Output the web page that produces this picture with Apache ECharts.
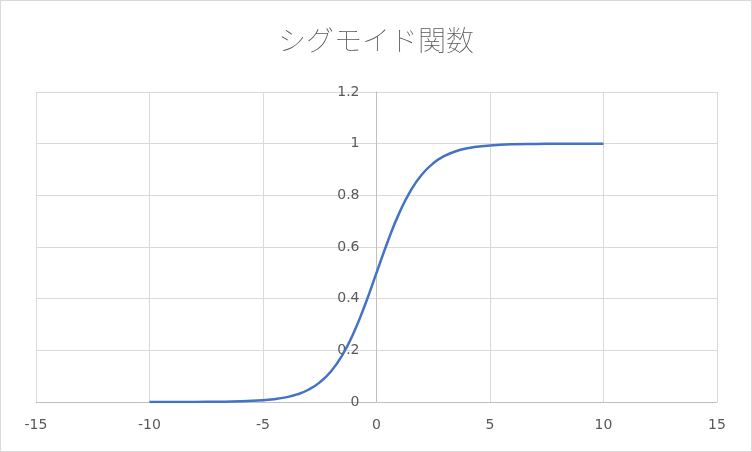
<!DOCTYPE html>
<html>
<head>
<meta charset="utf-8">
<script src="https://cdn.jsdelivr.net/npm/echarts@6/dist/echarts.min.js"></script>
<style>
html,body{margin:0;padding:0;background:#fff;}
#c{width:752px;height:452px;box-sizing:border-box;border:1px solid #d9d9d9;}
</style>
</head>
<body>
<div id="c"></div>
<script>
var titleText = 'シグモイド関数';
var xValues = [-10,-9,-8,-7,-6,-5,-4.5,-4,-3.5,-3,-2.5,-2,-1.5,-1,-0.5,0,0.5,1,1.5,2,2.5,3,3.5,4,4.5,5,6,7,8,9,10];
var yValues = [0.0000454,0.000123,0.000335,0.000911,0.00247,0.00669,0.0110,0.0180,0.0293,0.0474,0.0759,0.1192,0.1824,0.2689,0.3775,0.5,0.6225,0.7311,0.8176,0.8808,0.9241,0.9526,0.9707,0.9820,0.9890,0.9933,0.9975,0.9991,0.9997,0.9999,1.0000];
var points = xValues.map(function(x,i){return [x, yValues[i]];});

var gridLeft = 35;
var chart = echarts.init(document.getElementById('c'));
var labelFont = {fontFamily:'DejaVu Sans',fontSize:14,color:'#595959'};
chart.setOption({
  animation:false,
  title:{text:titleText,left:'center',top:20,textStyle:{fontFamily:'Noto Sans CJK JP',fontWeight:'lighter',fontSize:28,color:'#595959'}},
  grid:{left:gridLeft,right:34,top:91,bottom:49,containLabel:false,outerBoundsMode:'none'},
  xAxis:{type:'value',min:-15,max:15,interval:5,
    axisLine:{onZero:false,lineStyle:{color:'#bfbfbf',width:1}},
    axisTick:{show:false},
    axisLabel:Object.assign({margin:16},labelFont),
    splitLine:{show:true,lineStyle:{color:'#d9d9d9',width:1}}},
  yAxis:{type:'value',min:0,max:1.2,interval:0.2,position:'left',offset:0,
    axisLine:{show:true,onZero:false,lineStyle:{color:'#bfbfbf',width:1}},
    axisTick:{show:false},
    axisLabel:Object.assign({margin:17,formatter:function(v){return String(Math.round(v*10)/10);}},labelFont),
    splitLine:{show:true,lineStyle:{color:'#d9d9d9',width:1}}},
  series:[{type:'line',data:points,smooth:true,showSymbol:false,lineStyle:{color:'#4472C4',width:2.5},itemStyle:{color:'#4472C4'}}]
});
var zeroX = chart.convertToPixel({xAxisIndex:0}, 0);
var leftX = chart.convertToPixel({xAxisIndex:0}, -15);
chart.setOption({yAxis:{offset:-(zeroX - leftX)}});
</script>
</body>
</html>
